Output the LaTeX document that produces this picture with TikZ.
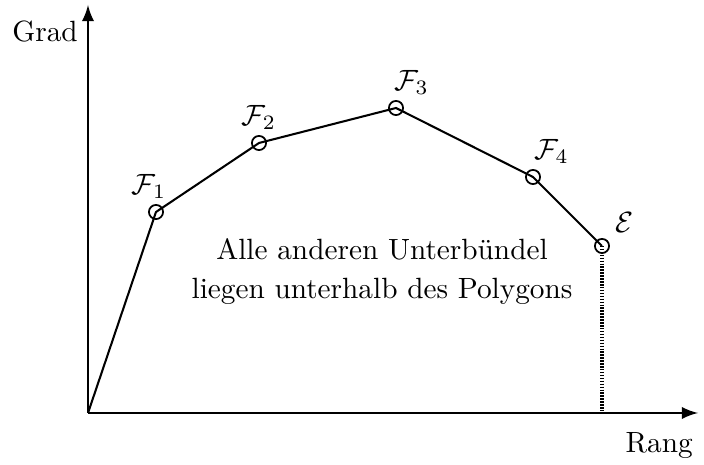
\documentclass[tikz,border=0pt]{standalone}
\usepackage{amssymb}
\usepackage{tikz}

\begin{document}
\begin{tikzpicture}[>=latex, scale=1]
        \useasboundingbox (-1.056,-0.624) rectangle (7.392,4.956);
        % Achsen
        \coordinate (O) at (0,0);
        \draw[->, line width=0.9pt] (O) -- (7.32,0) node[below left, xshift=2pt, yshift=-3pt] (rang) {Rang};
        \draw[->, line width=0.9pt] (O) -- (0,4.896) coordinate (ytip);
        \node (grad) at (-0.516,4.572) {Grad};
        
        % Ecken des Polygons
        \coordinate (F1) at (0.816,2.412);
        \coordinate (F2) at (2.052,3.24);
        \coordinate (F3) at (3.696,3.66);
        \coordinate (F4) at (5.34,2.832);
        \coordinate (E) at (6.168,2.004);
        \coordinate (E0) at (6.168,0);
        
        % Polygon
        \draw[line width=0.7pt] (O) -- (F1) -- (F2) -- (F3) -- (F4) -- (E);
        \draw[dash pattern=on 0.5pt off 0.5pt, line width=1.2pt] (E) -- (E0);
        
        % Punkte und Labels
        \foreach \p in {F1,F2,F3,F4,E}
            \draw[line width=0.6pt] (\p) circle (0.085);
        \node[above left, xshift=7pt, yshift=1pt] (l1) at (F1) {$\mathcal{F}_1$};
        \node[above, yshift=1pt] (l2) at (F2) {$\mathcal{F}_2$};
        \node[above right, xshift=-4pt, yshift=1pt] (l3) at (F3) {$\mathcal{F}_3$};
        \node[above right, xshift=-3pt, yshift=1pt] (l4) at (F4) {$\mathcal{F}_4$};
        \node[above right, xshift=1pt, yshift=1pt] (le) at (E) {$\mathcal{E}$};
        
        % Text
        \node[align=center] (txt) at (3.528,1.698) {Alle anderen Unterbündel\\[1.3pt]liegen unterhalb des Polygons};
    \end{tikzpicture}
\end{document}
